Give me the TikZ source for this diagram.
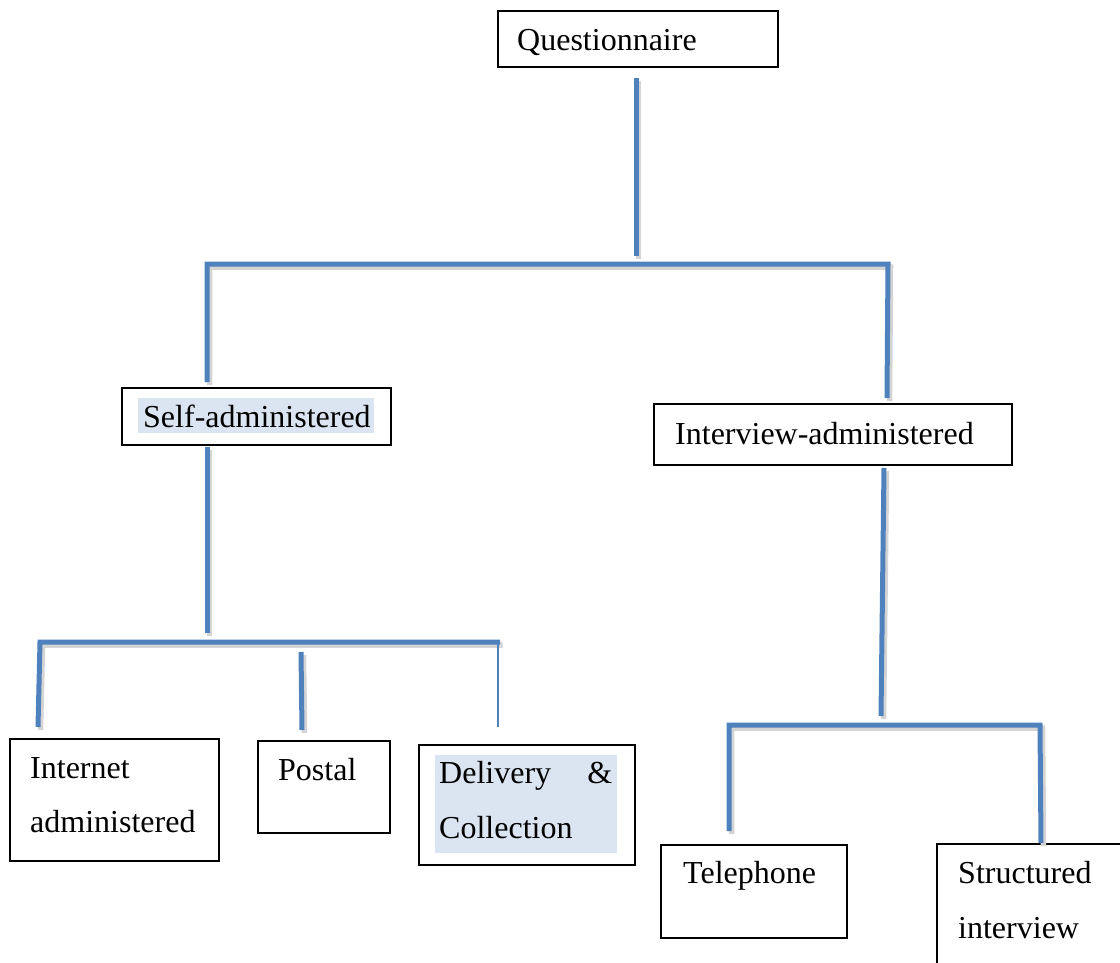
\documentclass[tikz,border=0pt]{standalone}
\usepackage{fontspec}
\setmainfont{Liberation Serif}
\definecolor{lineblue}{HTML}{4F81BD}
\definecolor{shadowgray}{HTML}{D4D4D4}
\definecolor{hlblue}{HTML}{DBE5F1}
\begin{document}
\begin{tikzpicture}[x=1pt,y=-1pt,
  box/.style={draw=black, line width=1.6pt, anchor=north west, inner sep=0pt},
  txt/.style={anchor=base west, inner sep=0pt, font=\fontsize{32pt}{38pt}\selectfont},
  hl/.style={fill=hlblue, draw=none},
  conn/.style={line width=5pt, draw=lineblue, line join=miter,
    preaction={draw=shadowgray, line width=5.5pt, transform canvas={shift={(2.5pt,-3pt)}}}},
  thinconn/.style={line width=1.6pt, draw=lineblue}]
\useasboundingbox (0,0) rectangle (1120,963);
% highlights
\fill[hl] (138,398) rectangle (374,433);
\fill[hl] (435,755) rectangle (617,853);
% boxes
\node[box, minimum width=280pt, minimum height=56pt] (q) at (497,10) {};
\node[box, minimum width=269pt, minimum height=57pt] (self) at (121,387) {};
\node[box, minimum width=358pt, minimum height=61pt] (inter) at (653,403) {};
\node[box, minimum width=209pt, minimum height=122pt] (inet) at (9,738) {};
\node[box, minimum width=132pt, minimum height=92pt] (postal) at (257,740) {};
\node[box, minimum width=216pt, minimum height=120pt] (deliv) at (418,744) {};
\node[box, minimum width=186pt, minimum height=93pt] (tel) at (660,844) {};
\draw[black, line width=1.6pt] (1125,844) -- (937,844) -- (937,968);
\coordinate (struct) at (1041,844);
% texts
\node[txt] (tq) at (517,51) {Questionnaire};
\node[txt] (tself) at (143,427) {Self-administered};
\node[txt] (tinter) at (675,444) {Interview-administered};
\node[txt] (tinet1) at (30,778) {Internet};
\node[txt] (tinet2) at (30,832) {administered};
\node[txt] (tpostal) at (278,780) {Postal};
\node[txt] (tdeliv1) at (439,783) {\makebox[173pt][s]{Delivery\hfill\&}};
\node[txt] (tdeliv2) at (439,838) {Collection};
\node[txt] (ttel) at (683,883) {Telephone};
\node[txt] (tst1) at (958,883) {Structured};
\node[txt] (tst2) at (958,938) {interview};
% connector coordinates
\coordinate (qa) at (636,78);   \coordinate (qb) at (636,256);
\coordinate (tl) at (207,264);  \coordinate (tr) at (888,264);
\coordinate (sa) at (207,382);  \coordinate (ia) at (887,398);
\coordinate (sb) at (207,447);  \coordinate (sc) at (207,633);
\coordinate (bl) at (40,642);   \coordinate (br) at (500,642);
\coordinate (inb) at (38,727);
\coordinate (pa) at (301,652);  \coordinate (pb) at (302,730);
\coordinate (da) at (498,644);  \coordinate (db) at (498,727);
\coordinate (iu) at (884,468);  \coordinate (id) at (881,716);
\coordinate (rl) at (729,725);  \coordinate (rr) at (1040,725);
\coordinate (tb) at (729,831);  \coordinate (stb) at (1041,843);
% connectors
\draw[conn] (qa) -- (qb);
\draw[conn] (sa) -- (tl) -- (tr) -- (ia);
\draw[conn] (sb) -- (sc);
\draw[conn] (inb) -- (bl) -- (br);
\draw[conn] (pa) -- (pb);
\draw[thinconn] (da) -- (db);
\draw[conn] (iu) -- (id);
\draw[conn] (tb) -- (rl) -- (rr) -- (stb);
\end{tikzpicture}
\end{document}
